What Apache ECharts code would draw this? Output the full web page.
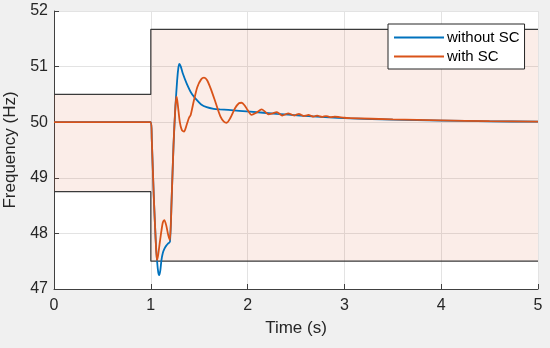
<!DOCTYPE html>
<html>
<head>
<meta charset="utf-8">
<script src="https://cdn.jsdelivr.net/npm/echarts@6/dist/echarts.min.js"></script>
<style>
html,body{margin:0;padding:0;background:#f0f0f0;}
#chart{width:550px;height:348px;}
</style>
</head>
<body>
<div id="chart"></div>
<script>
// ---- data ----
const xTicks = [0, 1, 2, 3, 4, 5];
const yTicks = [47, 48, 49, 50, 51, 52];

const upperBound = [[0, 50.5], [1, 50.5], [1, 51.67], [5, 51.67]];
const lowerBound = [[0, 48.75], [1, 48.75], [1, 47.5], [5, 47.5]];
// band regions: [x0, x1, yLow, yHigh]
const bandBefore = [0, 1, 48.75, 50.5];
const bandAfter = [1, 5, 47.5, 51.67];

const withoutSC = [
  [0, 50], [1.0, 50], [1.01, 49.7], [1.03, 48.7], [1.05, 47.9], [1.065, 47.5],
  [1.077, 47.3], [1.087, 47.25], [1.098, 47.33], [1.11, 47.52], [1.123, 47.64],
  [1.14, 47.72], [1.16, 47.78], [1.18, 47.82], [1.198, 47.85], [1.215, 48.6],
  [1.235, 49.6], [1.255, 50.3], [1.272, 50.75], [1.285, 50.98], [1.295, 51.05],
  [1.31, 51.0], [1.33, 50.88], [1.37, 50.7], [1.42, 50.52], [1.474, 50.40],
  [1.52, 50.32], [1.577, 50.27], [1.65, 50.24], [1.715, 50.23], [1.8, 50.22],
  [2.025, 50.19], [2.3, 50.15], [2.54, 50.12], [2.8, 50.09], [3.06, 50.07],
  [3.5, 50.045], [4, 50.03], [4.5, 50.015], [5, 50.01]
];

const withSC = [
  [0, 50], [1.0, 50], [1.01, 49.7], [1.03, 48.7], [1.05, 47.9], [1.063, 47.52],
  [1.075, 47.6], [1.09, 47.8], [1.11, 48.05], [1.125, 48.2], [1.14, 48.24],
  [1.16, 48.14], [1.18, 47.97], [1.198, 47.88], [1.215, 48.6], [1.235, 49.6],
  [1.255, 50.3], [1.267, 50.46], [1.28, 50.3], [1.3, 50.0], [1.32, 49.86],
  [1.343, 49.83], [1.37, 49.95], [1.395, 50.08], [1.412, 50.13], [1.44, 50.35],
  [1.48, 50.63], [1.52, 50.77], [1.55, 50.80], [1.58, 50.76], [1.62, 50.6],
  [1.67, 50.35], [1.72, 50.1], [1.755, 50.01], [1.784, 49.99], [1.82, 50.07],
  [1.87, 50.25], [1.91, 50.34], [1.939, 50.35], [1.97, 50.3], [2.0, 50.22],
  [2.04, 50.13], [2.09, 50.17], [2.145, 50.23], [2.18, 50.19], [2.215, 50.14],
  [2.26, 50.16], [2.30, 50.18], [2.33, 50.15], [2.36, 50.12], [2.39, 50.14],
  [2.42, 50.16], [2.45, 50.14], [2.48, 50.12], [2.505, 50.135], [2.53, 50.15],
  [2.555, 50.13], [2.58, 50.11], [2.605, 50.12], [2.63, 50.13], [2.655, 50.115],
  [2.68, 50.10], [2.70, 50.11], [2.72, 50.12], [2.745, 50.105], [2.77, 50.095],
  [2.79, 50.105], [2.81, 50.11], [2.835, 50.10], [2.86, 50.09], [2.88, 50.095],
  [2.9, 50.10], [2.95, 50.09], [3.0, 50.08], [3.06, 50.075], [3.5, 50.05],
  [4, 50.032], [4.5, 50.018], [5, 50.012]
];

const seriesNames = ['without SC', 'with SC'];

// ---- chart ----
const chart = echarts.init(document.getElementById('chart'), null, {renderer: 'canvas'});
const txt = '#262626';
const font = '"Liberation Sans", Arial, Helvetica, sans-serif';
const bandColor = 'rgba(217,83,25,0.1)';
const boundColor = '#3a3a3a';

chart.setOption({
  backgroundColor: '#f0f0f0',
  animation: false,
  textStyle: {fontFamily: font},
  grid: {left: 54, right: 12, top: 11, bottom: 59, show: true, backgroundColor: '#ffffff', borderWidth: 0,
         containLabel: false, outerBoundsMode: 'none'},
  legend: {
    data: seriesNames,
    orient: 'vertical',
    left: 388, top: 24,
    padding: [6, 5, 5, 6],
    itemGap: 4,
    itemWidth: 50, itemHeight: 2,
    icon: 'rect',
    backgroundColor: '#ffffff',
    borderColor: '#262626', borderWidth: 1, borderRadius: 0,
    textStyle: {fontSize: 15, color: '#000', fontFamily: font, padding: [0, 0, 0, -2]}
  },
  xAxis: {
    type: 'value', min: xTicks[0], max: xTicks[xTicks.length - 1], interval: 1,
    name: 'Time (s)', nameLocation: 'middle', nameGap: 31,
    nameTextStyle: {fontSize: 17, color: txt, fontFamily: font},
    axisLine: {show: true, onZero: false, lineStyle: {color: '#404040', width: 1}},
    axisTick: {show: true, inside: true, length: 5, lineStyle: {color: '#404040'}},
    axisLabel: {fontSize: 16, color: txt, margin: 9, fontFamily: font},
    splitLine: {show: true, lineStyle: {color: '#e3e3e3', width: 1}}
  },
  yAxis: {
    type: 'value', min: yTicks[0], max: yTicks[yTicks.length - 1], interval: 1,
    name: 'Frequency (Hz)', nameLocation: 'middle', nameGap: 30,
    nameTextStyle: {fontSize: 17, color: txt, fontFamily: font},
    axisLine: {show: true, onZero: false, lineStyle: {color: '#404040', width: 1}},
    axisTick: {show: true, inside: true, length: 5, lineStyle: {color: '#404040'}},
    axisLabel: {fontSize: 16, color: txt, margin: 6, fontFamily: font},
    splitLine: {show: true, lineStyle: {color: '#e3e3e3', width: 1}}
  },
  series: [
    {
      type: 'line', name: 'bandFill', data: [], silent: true,
      markArea: {
        silent: true,
        itemStyle: {color: bandColor, borderWidth: 0},
        data: [
          [{xAxis: bandBefore[0], yAxis: bandBefore[2]}, {xAxis: bandBefore[1], yAxis: bandBefore[3]}],
          [{xAxis: bandAfter[0], yAxis: bandAfter[2]}, {xAxis: bandAfter[1], yAxis: bandAfter[3]}]
        ]
      }
    },
    {type: 'line', name: 'upper', data: upperBound, showSymbol: false, silent: true,
     lineStyle: {color: boundColor, width: 1.2}, itemStyle: {color: boundColor}},
    {type: 'line', name: 'lower', data: lowerBound, showSymbol: false, silent: true,
     lineStyle: {color: boundColor, width: 1.2}, itemStyle: {color: boundColor}},
    {type: 'line', name: seriesNames[0], data: withoutSC, showSymbol: false, smooth: 0.25,
     lineStyle: {color: '#0072BD', width: 1.8}, itemStyle: {color: '#0072BD'}},
    {type: 'line', name: seriesNames[1], data: withSC, showSymbol: false, smooth: 0.25,
     lineStyle: {color: '#D95319', width: 1.8}, itemStyle: {color: '#D95319'}}
  ]
});
</script>
</body>
</html>
